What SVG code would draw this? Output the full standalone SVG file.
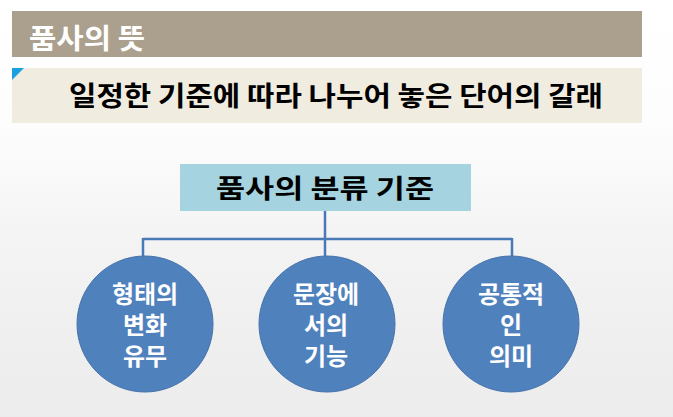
<svg xmlns="http://www.w3.org/2000/svg" width="673" height="417" viewBox="0 0 673 417">
<defs>
<linearGradient id="bg" x1="0" y1="0" x2="0" y2="1">
<stop offset="0" stop-color="#ffffff"/>
<stop offset="0.3" stop-color="#fdfdfd"/>
<stop offset="0.6" stop-color="#f3f3f3"/>
<stop offset="1" stop-color="#ececec"/>
</linearGradient>
<style>
text{font-family:"Noto Sans CJK KR","Noto Sans",sans-serif;font-weight:bold;}
.w{fill:#ffffff;}
.k{fill:#000000;}
.circ{fill:#4f81bd;stroke:#4673aa;stroke-width:1;}
.conn{fill:none;stroke:#4a7ab5;stroke-width:2.5;}
.ct{font-size:24px;fill:#ffffff;text-anchor:middle;}
</style>
</defs>
<rect x="0" y="0" width="673" height="417" fill="url(#bg)"/>
<g id="header">
<rect x="12" y="11" width="630" height="46" fill="#aba08d"/>
<text x="29" y="49" class="w" font-size="28" textLength="116" lengthAdjust="spacingAndGlyphs">품사의 뜻</text>
</g>
<g id="definition">
<rect x="12" y="68" width="630" height="55" fill="#f0ece0"/>
<polygon points="12,68 24,68 12,80" fill="#1ba1e2"/>
<text x="69" y="106" class="k" font-size="27" textLength="534" lengthAdjust="spacingAndGlyphs">일정한 기준에 따라 나누어 놓은 단어의 갈래</text>
</g>
<g id="connectors">
<path class="conn" d="M325,211 V239 M143,239 H512 M143,238 V258 M325,239 V258 M512,238 V258"/>
</g>
<g id="root">
<rect x="180" y="164" width="291" height="47" fill="#a5d3df"/>
<text x="216" y="198" class="k" font-size="26" textLength="218" lengthAdjust="spacingAndGlyphs">품사의 분류 기준</text>
</g>
<g id="node1">
<circle class="circ" cx="145" cy="324" r="68"/>
<text class="ct" x="145" y="303">형태의</text>
<text class="ct" x="145" y="334">변화</text>
<text class="ct" x="145" y="365">유무</text>
</g>
<g id="node2">
<circle class="circ" cx="327" cy="324" r="68"/>
<text class="ct" x="326" y="303">문장에</text>
<text class="ct" x="326" y="334">서의</text>
<text class="ct" x="326" y="365">기능</text>
</g>
<g id="node3">
<circle class="circ" cx="511" cy="324" r="68"/>
<text class="ct" x="511" y="303">공통적</text>
<text class="ct" x="511" y="334">인</text>
<text class="ct" x="511" y="365">의미</text>
</g>
</svg>
